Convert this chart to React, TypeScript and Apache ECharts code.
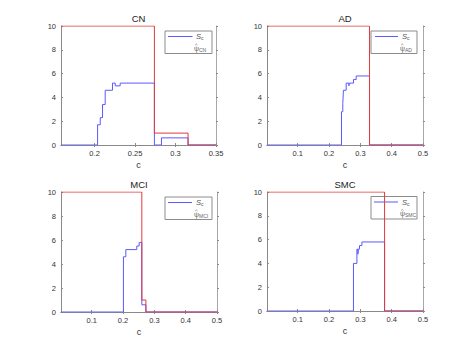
import React, { useEffect, useRef } from "react";
import * as echarts from "echarts";

// ---- data ----
const cnBlueX = [0.1585, 0.2037, 0.207, 0.2098, 0.2131, 0.2221, 0.2255, 0.2316, 0.2739, 0.2826, 0.3155, 0.35];
const cnBlueY = [0, 1.7, 2.3, 3.4, 4.6, 5.2, 4.97, 5.2, 0, 0.6, 0, 0];
const cnRedX = [0.1585, 0.2739, 0.3155, 0.35];
const cnRedY = [10, 1, 0, 0];

const adBlueX = [0.002, 0.2398, 0.244, 0.246, 0.2547, 0.2633, 0.2653, 0.278, 0.2867, 0.3293, 0.5];
const adBlueY = [0, 2.8, 3.5, 4.6, 5.2, 4.97, 5.2, 5.5, 5.8, 0, 0];
const adRedX = [0.002, 0.3293, 0.5];
const adRedY = [10, 0, 0];

const mciBlueX = [0.002, 0.2013, 0.209, 0.244, 0.2515, 0.26, 0.273, 0.5];
const mciBlueY = [0, 4.6, 5.2, 5.5, 5.8, 0.6, 0, 0];
const mciRedX = [0.002, 0.26, 0.273, 0.5];
const mciRedY = [10, 1, 0, 0];

const smcBlueX = [0.002, 0.278, 0.289, 0.292, 0.294, 0.2973, 0.305, 0.3773, 0.5];
const smcBlueY = [0, 4.0, 5.2, 4.77, 5.2, 5.5, 5.8, 0, 0];
const smcRedX = [0.002, 0.3773, 0.5];
const smcRedY = [10, 0, 0];

const cnTicks = [0.2, 0.25, 0.3, 0.35];
const wideTicks = [0.1, 0.2, 0.3, 0.4, 0.5];
const yTicks = [0, 2, 4, 6, 8, 10];
const titles = ["CN", "AD", "MCI", "SMC"];
const xName = "c";

const pairs = (xs: number[], ys: number[]) => xs.map((x, i) => [x, ys[i]]);

const FONT = "Liberation Sans, Arial, Helvetica, sans-serif";
const BLUE = "#5a5aff";
const RED = "#e23a3a";
const AXIS = "#8a8a8a";

const panels = [
  { title: titles[0], xmin: cnBlueX[0], xmax: 0.35, ticks: cnTicks, blue: pairs(cnBlueX, cnBlueY), red: pairs(cnRedX, cnRedY),
    grid: { left: 61, top: 26, width: 155, height: 119 }, leg: { x: 165, y: 31, w: 47, lx1: 168, lx2: 192.5, tx: 195 } },
  { title: titles[1], xmin: adBlueX[0], xmax: 0.5, ticks: wideTicks, blue: pairs(adBlueX, adBlueY), red: pairs(adRedX, adRedY),
    grid: { left: 267, top: 26, width: 156, height: 119 }, leg: { x: 371, y: 31, w: 46, lx1: 375, lx2: 398, tx: 401 } },
  { title: titles[2], xmin: mciBlueX[0], xmax: 0.5, ticks: wideTicks, blue: pairs(mciBlueX, mciBlueY), red: pairs(mciRedX, mciRedY),
    grid: { left: 61, top: 192, width: 156, height: 120 }, leg: { x: 165, y: 197, w: 47, lx1: 168, lx2: 192, tx: 195 } },
  { title: titles[3], xmin: smcBlueX[0], xmax: 0.5, ticks: wideTicks, blue: pairs(smcBlueX, smcBlueY), red: pairs(smcRedX, smcRedY),
    grid: { left: 267, top: 192, width: 156, height: 119 }, leg: { x: 371, y: 196.5, w: 46, lx1: 374, lx2: 398, tx: 401 } },
];

export default function App() {
  const ref = useRef<HTMLDivElement>(null);
  useEffect(() => {
    if (!ref.current) return;
    const chart = echarts.init(ref.current, null, { renderer: "svg" });
    const xAxes: any[] = [];
    const yAxes: any[] = [];
    const series: any[] = [];
    const graphics: any[] = [];
    const titleArr: any[] = [];

    panels.forEach((p, i) => {
      xAxes[i] = {
        type: "value", gridIndex: i, min: p.xmin, max: p.xmax, position: "bottom",
        name: xName, nameLocation: "middle", nameGap: 15,
        nameTextStyle: { fontFamily: FONT, fontSize: 9, color: "#333" },
        axisLine: { show: true, lineStyle: { color: AXIS, width: 1 } },
        axisTick: { show: true, inside: true, length: 2, customValues: p.ticks, lineStyle: { color: AXIS } },
        axisLabel: { show: true, customValues: p.ticks, margin: 4, fontFamily: FONT, fontSize: 7.5, color: "#333" },
        splitLine: { show: false },
      };
      xAxes[i + 4] = {
        type: "value", gridIndex: i, min: p.xmin, max: p.xmax, position: "top",
        axisLine: { show: true, lineStyle: { color: AXIS, width: 1 } },
        axisTick: { show: true, inside: true, length: 2, customValues: p.ticks, lineStyle: { color: AXIS } },
        axisLabel: { show: false },
        splitLine: { show: false },
      };
      yAxes[i] = {
        type: "value", gridIndex: i, min: 0, max: 10, interval: 2, position: "left",
        axisLine: { show: true, lineStyle: { color: AXIS, width: 1 } },
        axisTick: { show: true, inside: true, length: 2, lineStyle: { color: AXIS } },
        axisLabel: { show: true, margin: 5, fontFamily: FONT, fontSize: 7.5, color: "#333",
          formatter: (v: number) => (yTicks.includes(v) ? String(v) : "") },
        splitLine: { show: false },
      };
      yAxes[i + 4] = {
        type: "value", gridIndex: i, min: 0, max: 10, interval: 2, position: "right",
        axisLine: { show: true, lineStyle: { color: "#a8a8a8", width: 1 } },
        axisTick: { show: true, inside: false, length: 2, lineStyle: { color: AXIS } },
        axisLabel: { show: false },
        splitLine: { show: false },
      };
      series.push({
        type: "line", step: "end", xAxisIndex: i, yAxisIndex: i, data: p.blue,
        showSymbol: false, symbol: "none", lineStyle: { color: BLUE, width: 1 }, z: 2,
      });
      series.push({
        type: "line", step: "end", xAxisIndex: i, yAxisIndex: i, data: p.red,
        showSymbol: false, symbol: "none", lineStyle: { color: RED, width: 1 }, z: 3,
      });
      titleArr.push({
        text: p.title, left: p.grid.left + p.grid.width / 2, top: p.grid.top - 13, textAlign: "center",
        padding: 0,
        textStyle: { fontFamily: FONT, fontSize: 9.5, fontWeight: "normal", color: "#222" },
      });
      const L = p.leg;
      const hx = L.tx + 1.3;
      const hy = L.y + 13;
      graphics.push({
        type: "group", z: 100,
        children: [
          { type: "rect", shape: { x: L.x, y: L.y, width: L.w, height: 22.5 },
            style: { fill: "#fff", stroke: "#8c8c8c", lineWidth: 1 } },
          { type: "line", shape: { x1: L.lx1, y1: L.y + 5.5, x2: L.lx2, y2: L.y + 5.5 },
            style: { stroke: BLUE, lineWidth: 1 } },
          { type: "text", x: L.tx + 1, y: L.y + 5.5,
            style: { text: "{i|S}{s|c}", verticalAlign: "middle", fill: "#555",
              rich: { i: { fontFamily: FONT, fontStyle: "italic", fontSize: 7.5, fill: "#555" },
                      s: { fontFamily: FONT, fontSize: 5, fill: "#555", padding: [3, 0, 0, 0] } } } },
          { type: "text", x: L.tx - 1, y: L.y + 17,
            style: { text: "{i|ψ}{s|" + p.title + "}", verticalAlign: "middle", fill: "#666",
              rich: { i: { fontFamily: FONT, fontSize: 7, fill: "#666" },
                      s: { fontFamily: FONT, fontSize: 5, fill: "#666", padding: [3, 0, 0, 0] } } } },
          { type: "polyline", shape: { points: [[hx - 1.2, hy + 1], [hx, hy], [hx + 1.2, hy + 1]] },
            style: { stroke: "#666", lineWidth: 0.6, fill: null } },
        ],
      });
    });

    chart.setOption({
      animation: false,
      backgroundColor: "#fff",
      title: titleArr,
      grid: panels.map((p) => ({ ...p.grid, containLabel: false })),
      xAxis: xAxes,
      yAxis: yAxes,
      series,
      graphic: graphics,
    });
    return () => chart.dispose();
  }, []);
  return <div ref={ref} style={{ position: "fixed", left: 0, top: 0, width: 467, height: 350 }} />;
}
